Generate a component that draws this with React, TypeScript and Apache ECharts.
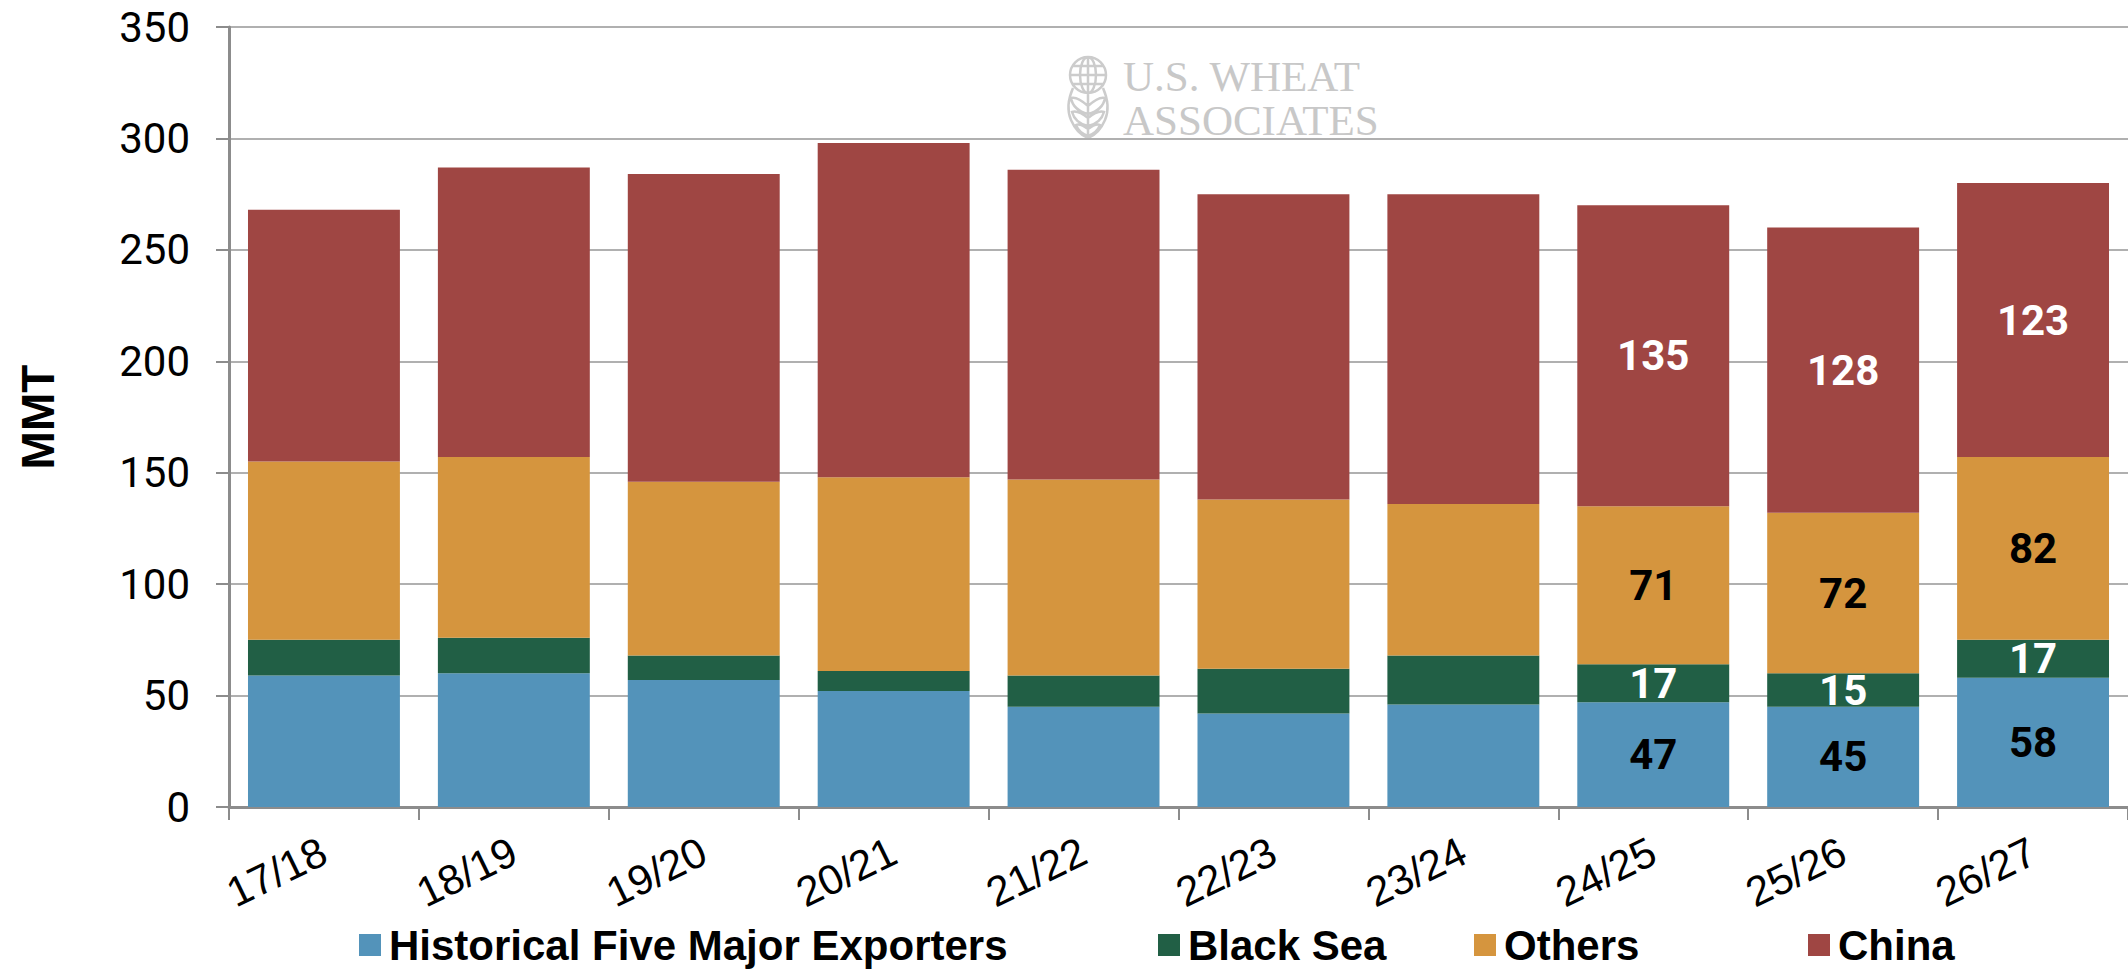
import React, { useEffect, useRef } from "react";
import * as echarts from "echarts";

const categories = ["17/18", "18/19", "19/20", "20/21", "21/22", "22/23", "23/24", "24/25", "25/26", "26/27"];
const historicalFive = [59, 60, 57, 52, 45, 42, 46, 47, 45, 58];
const blackSea = [16, 16, 11, 9, 14, 20, 22, 17, 15, 17];
const others = [80, 81, 78, 87, 88, 76, 68, 71, 72, 82];
const china = [113, 130, 138, 150, 139, 137, 139, 135, 128, 123];
const labeledCategories = ["24/25", "25/26", "26/27"];
const seriesNames = ["Historical Five Major Exporters", "Black Sea", "Others", "China"];
const yTicks = { min: 0, max: 350, interval: 50 };

const COLORS = ["#5393ba", "#215f45", "#d5953e", "#9f4643"];
const LABEL_COLORS = ["#000000", "#ffffff", "#000000", "#ffffff"];
const NARROW = "Roboto, 'Liberation Sans', sans-serif";
const SANS = "'Liberation Sans', Arial, sans-serif";
const SERIF = "'Liberation Serif', 'DejaVu Serif', serif";

const logoPath =
  "M3,19 A18,18 0 1,1 39,19 A18,18 0 1,1 3,19 Z " +
  "M21,1 A8,18 0 1,1 21,37 A8,18 0 1,1 21,1 Z " +
  "M21,1 L21,37 M6,10 L36,10 M3,19 L39,19 M6,28 L36,28 " +
  "M6,32 Q-2,50 4,64 Q10,78 21,82 Q32,78 38,64 Q44,50 36,32 " +
  "M21,37 L21,82 " +
  "M21,50 Q10,40 4,42 Q6,54 21,58 M21,50 Q32,40 38,42 Q36,54 21,58 " +
  "M21,62 Q11,54 5,56 Q8,67 21,70 M21,62 Q31,54 37,56 Q34,67 21,70 " +
  "M21,73 Q13,67 9,69 Q12,77 21,80 M21,73 Q29,67 33,69 Q30,77 21,80";

let registered = false;

export default function App() {
  const ref = useRef<HTMLDivElement>(null);

  useEffect(() => {
    document.body.style.margin = "0";
    if (!registered) {
      echarts.graphic.registerShape("uswlogo", echarts.graphic.extendPath(logoPath, {}) as any);
      registered = true;
    }
    const chart = echarts.init(ref.current!, null, { renderer: "svg" });
    const datasets = [historicalFive, blackSea, others, china];
    const legendLefts = [359, 1158, 1474, 1808];

    const option: any = {
      animation: false,
      grid: { left: 229, right: 0, top: 27, bottom: 162, containLabel: false },
      legend: seriesNames.map((n, i) => ({
        data: [n],
        left: legendLefts[i],
        top: 924,
        icon: "rect",
        itemWidth: 22,
        itemHeight: 22,
        itemGap: 0,
        padding: 0,
        textStyle: { fontFamily: SANS, fontWeight: "bold", fontSize: 42, color: "#000", padding: [0, 0, 0, 3] },
        selectedMode: false,
      })),
      xAxis: {
        type: "category",
        data: categories,
        boundaryGap: true,
        axisLine: { show: true, lineStyle: { color: "#8c8c8c", width: 3 } },
        axisTick: { show: true, length: 13, lineStyle: { color: "#8c8c8c", width: 2 } },
        axisLabel: {
          interval: 0,
          rotate: 26,
          margin: 42,
          fontFamily: SANS,
          fontSize: 42,
          color: "#000",
        },
        splitLine: { show: false },
      },
      yAxis: {
        type: "value",
        min: yTicks.min,
        max: yTicks.max,
        interval: yTicks.interval,
        name: "MMT",
        nameLocation: "middle",
        nameGap: 168,
        nameTextStyle: { fontFamily: SANS, fontWeight: "bold", fontSize: 46, color: "#000" },
        axisLine: { show: true, lineStyle: { color: "#8c8c8c", width: 3 } },
        axisTick: { show: true, length: 13, lineStyle: { color: "#8c8c8c", width: 2 } },
        axisLabel: { margin: 39, fontFamily: NARROW, fontSize: 42, color: "#000" },
        splitLine: { show: true, lineStyle: { color: "#b0b0b0", width: 2 } },
      },
      series: seriesNames.map((n, i) => ({
        name: n,
        type: "bar",
        stack: "total",
        barCategoryGap: "20%",
        data: datasets[i],
        itemStyle: { color: COLORS[i] },
        label: {
          show: true,
          position: "inside",
          fontFamily: NARROW,
          fontWeight: "bold",
          fontSize: 42,
          color: LABEL_COLORS[i],
          formatter: (p: any) => (labeledCategories.includes(p.name) ? String(p.value) : ""),
        },
      })),
      graphic: [
        {
          type: "uswlogo",
          x: 1067,
          y: 56,
          scaleX: 1,
          scaleY: 1,
          z: -1,
          style: { fill: "none", stroke: "#cccccc", lineWidth: 2.5 },
        },
        {
          type: "text",
          left: 1123,
          top: 54,
          z: -1,
          style: {
            text: "U.S. WHEAT\nASSOCIATES",
            fontFamily: SERIF,
            fontSize: 43,
            lineHeight: 44,
            fill: "#c8c8c8",
          },
        },
      ],
    };
    chart.setOption(option);
    return () => chart.dispose();
  }, []);

  return <div ref={ref} style={{ width: 2128, height: 969 }} />;
}
